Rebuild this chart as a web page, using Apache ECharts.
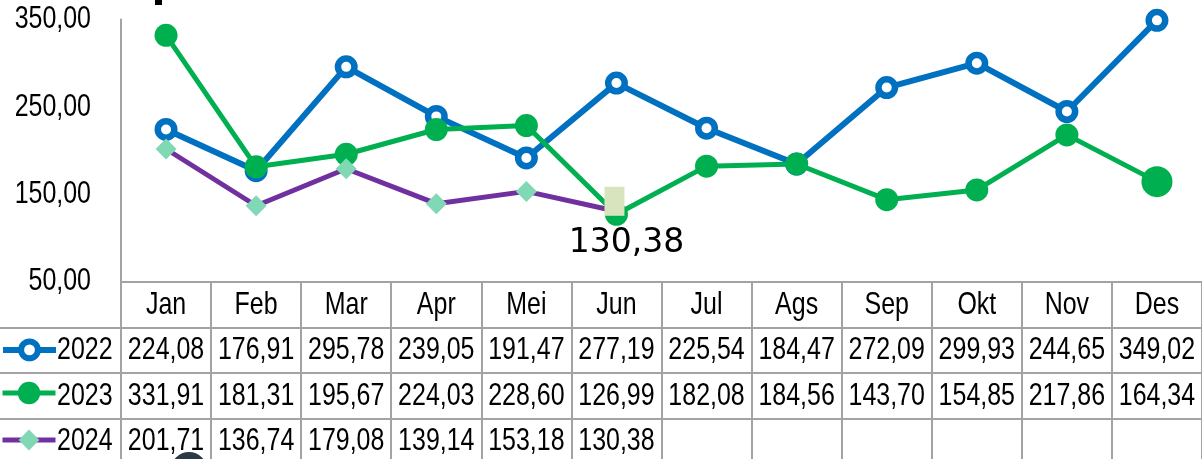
<!DOCTYPE html>
<html>
<head>
<meta charset="utf-8">
<script src="https://cdn.jsdelivr.net/npm/echarts@6/dist/echarts.min.js"></script>
<style>
html,body{margin:0;padding:0;background:#fff}
#chart{width:1202px;height:459px}
</style>
</head>
<body>
<div id="chart"></div>
<script>
// data
const months = ['Jan','Feb','Mar','Apr','Mei','Jun','Jul','Ags','Sep','Okt','Nov','Des'];
const years = ['2022','2023','2024'];
const v2022 = [224.08,176.91,295.78,239.05,191.47,277.19,225.54,184.47,272.09,299.93,244.65,349.02];
const v2023 = [331.91,181.31,195.67,224.03,228.60,126.99,182.08,184.56,143.70,154.85,217.86,164.34];
const v2024 = [201.71,136.74,179.08,139.14,153.18,130.38];
const yTicks = [50, 150, 250, 350];

const gridGray = '#a3a3a3';
const narrowFont = '32px "Liberation Sans", Arial, sans-serif';
const squeeze = 0.78; // the original text is a narrow face, squeeze the regular one
const fmt = v => v.toFixed(2).replace('.', ',');

// table cells, placed by the table grid's axes
const cellPos = [];
const cellText = [];
months.forEach((m, i) => { cellPos.push([i, 0.5]); cellText.push(m); });
[v2022, v2023, v2024].forEach((arr, r) => arr.forEach((v, i) => {
    cellPos.push([i, r + 1.5]);
    cellText.push(fmt(v));
}));

function narrowText(x, y, text, align) {
    return {
        type: 'text', x: x, y: y, scaleX: squeeze,
        style: { text: text, fill: '#000', font: narrowFont, align: align, verticalAlign: 'middle' }
    };
}

const d2023 = v2023.map((v, i) => i === 11 ? { value: v, symbolSize: 31 } : v);
const d2024 = v2024.map((v, i) => i === v2024.length - 1 ? {
    value: v,
    symbol: 'rect', symbolSize: [20, 29], symbolOffset: [-2, -10],
    itemStyle: { color: '#d7e4bd' },
    label: {
        show: true, position: 'inside', offset: [12, 42],
        formatter: p => fmt(p.value),
        color: '#000', fontFamily: '"DejaVu Sans", sans-serif', fontSize: 33
    }
} : v);

function legendFor(name, top, h, extra) {
    return Object.assign({
        data: [name], left: 0, top: top, padding: 0,
        itemWidth: 53, itemHeight: h, selectedMode: false,
        formatter: () => ''
    }, extra);
}

const option = {
    animation: false,
    backgroundColor: '#fff',
    legend: [
        legendFor('2022', 338.5, 21, { itemStyle: { borderWidth: 6 }, lineStyle: { width: 6 } }),
        legendFor('2023', 379, 28, { itemStyle: { borderWidth: 0 }, lineStyle: { width: 5 } }),
        legendFor('2024', 427, 26, { itemStyle: { borderWidth: 0 }, lineStyle: { width: 5 } })
    ],
    grid: [
        { left: 121, right: 0, top: 19.5, height: 262, outerBoundsMode: 'none' },
        { left: 121, right: 0, top: 282, height: 182, outerBoundsMode: 'none' },
        { left: 0, width: 121, top: 327.5, height: 136.5, outerBoundsMode: 'none' }
    ],
    xAxis: [
        {
            gridIndex: 0, type: 'category', data: months, boundaryGap: true,
            axisLine: { lineStyle: { color: gridGray, width: 2 } },
            axisTick: { show: false }, axisLabel: { show: false }
        },
        {
            gridIndex: 1, type: 'category', data: months, boundaryGap: true,
            axisLine: { show: false }, axisTick: { show: false }, axisLabel: { show: false },
            splitLine: { show: true, interval: 0, lineStyle: { color: gridGray, width: 2 } }
        },
        { gridIndex: 2, type: 'value', min: 0, max: 1, show: false }
    ],
    yAxis: [
        {
            gridIndex: 0, type: 'value', min: 50, max: 350, interval: 100,
            axisLine: { show: true, lineStyle: { color: gridGray, width: 2 } },
            axisTick: { show: false }, splitLine: { show: false }, axisLabel: { show: false }
        },
        {
            gridIndex: 1, type: 'value', inverse: true, min: 0, max: 4, interval: 1,
            axisLine: { show: true, lineStyle: { color: gridGray, width: 2 } },
            axisTick: { show: false }, axisLabel: { show: false },
            splitLine: { show: true, lineStyle: { color: gridGray, width: 2 } }
        },
        {
            gridIndex: 2, type: 'value', inverse: true, min: 0, max: 3, interval: 1,
            axisLine: { show: false }, axisTick: { show: false }, axisLabel: { show: false },
            splitLine: { show: true, lineStyle: { color: gridGray, width: 2 } }
        }
    ],
    series: [
        {
            name: '2022', type: 'line', data: v2022,
            symbol: 'circle', symbolSize: 16.5,
            itemStyle: { color: '#fff', borderColor: '#0070c0', borderWidth: 6.5 },
            lineStyle: { color: '#0070c0', width: 6 },
            emphasis: { disabled: true }
        },
        {
            name: '2023', type: 'line', data: d2023,
            symbol: 'circle', symbolSize: 23,
            itemStyle: { color: '#00b050' },
            lineStyle: { color: '#00b050', width: 5 },
            emphasis: { disabled: true }
        },
        {
            name: '2024', type: 'line', data: d2024,
            symbol: 'diamond', symbolSize: 21,
            itemStyle: { color: '#80d8b4' },
            lineStyle: { color: '#7030a0', width: 5 },
            emphasis: { disabled: true }
        },
        {
            // y axis tick labels, right aligned 30px left of the axis
            type: 'custom', xAxisIndex: 0, yAxisIndex: 0, silent: true,
            data: yTicks.map(v => [0, v]),
            renderItem: (params, api) => {
                const p = api.coord([api.value(0), api.value(1)]);
                const half = api.size([1, 0])[0] / 2;
                return narrowText(p[0] - half - 30, p[1], fmt(api.value(1)), 'right');
            }
        },
        {
            // data table text
            type: 'custom', xAxisIndex: 1, yAxisIndex: 1, silent: true,
            data: cellPos,
            renderItem: (params, api) => {
                const p = api.coord([api.value(0), api.value(1)]);
                return narrowText(p[0], p[1], cellText[params.dataIndex], 'center');
            }
        },
        {
            // row names next to the legend keys
            type: 'custom', xAxisIndex: 2, yAxisIndex: 2, silent: true,
            data: years.map((y, r) => [0, r + 0.5]),
            renderItem: (params, api) => {
                const p = api.coord([api.value(0), api.value(1)]);
                return narrowText(p[0] + 57, p[1], years[params.dataIndex], 'left');
            }
        }
    ],
    graphic: [
        // cut-off bits at the picture's edges
        { type: 'rect', left: 155, top: 0, shape: { width: 7, height: 5 }, style: { fill: '#000' }, silent: true },
        { type: 'circle', shape: { cx: 189, cy: 470, r: 18 }, style: { fill: '#2b3a44' }, silent: true }
    ]
};

const chart = echarts.init(document.getElementById('chart'));
chart.setOption(option);
</script>
</body>
</html>
